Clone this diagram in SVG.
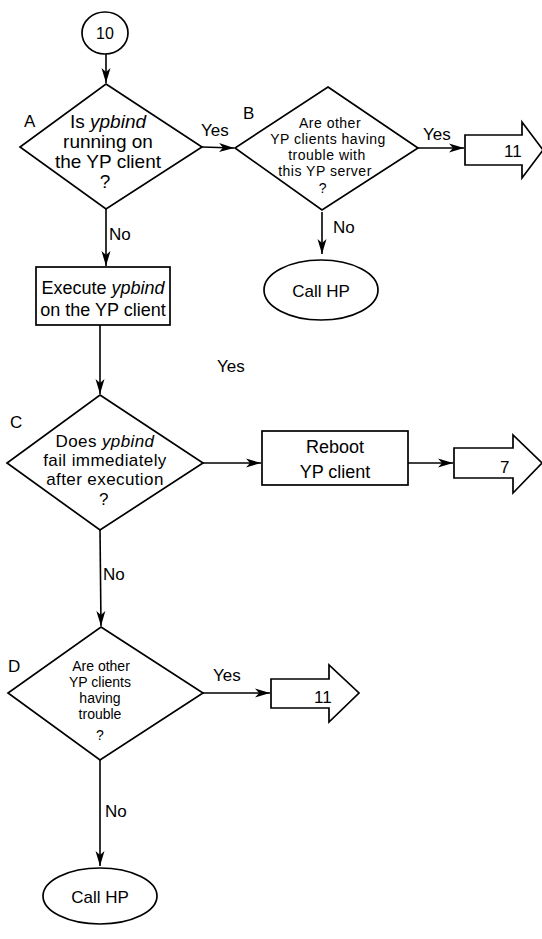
<svg xmlns="http://www.w3.org/2000/svg" width="542" height="939" viewBox="0 0 542 939">
<style>
.s{fill:#fff;stroke:#000;stroke-width:1.7}
.c{fill:none;stroke:#000;stroke-width:1.6}
text{font-family:"Liberation Sans",Arial,sans-serif;fill:#000}
.t{font-size:18px;text-anchor:middle}
.a{font-size:19px;text-anchor:middle}
.q{font-size:17px;text-anchor:middle;letter-spacing:0.4px}
.m{font-size:16px;text-anchor:middle}
.d{font-size:14px;text-anchor:middle}
.sm{font-size:14px;text-anchor:middle;letter-spacing:0.5px}
.l{font-size:17px}
.i{font-style:italic}
</style>
<defs>
<marker id="ah" markerWidth="16" markerHeight="10" refX="15" refY="5" orient="auto" markerUnits="userSpaceOnUse">
<path d="M0,0.5 L15,5 L0,9.5 L4,5 z" fill="#000"/>
</marker>
</defs>
<rect width="542" height="939" fill="#fff"/>
<g id="connectors">
<line class="c" x1="106" y1="54" x2="106" y2="83" marker-end="url(#ah)"/>
<line class="c" x1="202" y1="147" x2="234" y2="148" marker-end="url(#ah)"/>
<line class="c" x1="418" y1="148" x2="464" y2="148" marker-end="url(#ah)"/>
<line class="c" x1="322" y1="212" x2="322" y2="254" marker-end="url(#ah)"/>
<line class="c" x1="106" y1="209" x2="106" y2="266" marker-end="url(#ah)"/>
<line class="c" x1="100" y1="325" x2="100" y2="394" marker-end="url(#ah)"/>
<line class="c" x1="203" y1="463" x2="261" y2="463" marker-end="url(#ah)"/>
<line class="c" x1="408" y1="463" x2="453" y2="463" marker-end="url(#ah)"/>
<line class="c" x1="100" y1="530" x2="101" y2="626" marker-end="url(#ah)"/>
<line class="c" x1="203" y1="693" x2="270" y2="693" marker-end="url(#ah)"/>
<line class="c" x1="100" y1="760" x2="100" y2="866" marker-end="url(#ah)"/>
<text class="l" x="201" y="136">Yes</text>
<text class="l" x="423" y="140">Yes</text>
<text class="l" x="333" y="233">No</text>
<text class="l" x="109" y="240">No</text>
<text class="l" x="217" y="372">Yes</text>
<text class="l" x="103" y="580">No</text>
<text class="l" x="213" y="681">Yes</text>
<text class="l" x="105" y="817">No</text>
</g>
<g id="n10">
<ellipse class="s" cx="105" cy="33" rx="23" ry="21"/>
<text class="m" x="105" y="39">10</text>
</g>
<g id="nA">
<polygon class="s" points="106,84 202,147 106,209 20,147"/>
<text class="l" x="24" y="127">A</text>
<text class="a" x="108" y="128">Is <tspan class="i">ypbind</tspan></text>
<text class="a" x="108" y="148">running on</text>
<text class="a" x="108" y="168">the YP client</text>
<text class="a" x="105" y="188">?</text>
</g>
<g id="nB">
<polygon class="s" points="328,87 418,148 322,210 235,148"/>
<text class="l" x="243" y="119">B</text>
<text class="sm" x="330" y="128">Are other</text>
<text class="sm" x="328" y="144">YP clients having</text>
<text class="sm" x="327" y="160">trouble with</text>
<text class="sm" x="325" y="176">this YP server</text>
<text class="sm" x="323" y="193">?</text>
</g>
<g id="n11a">
<polygon class="s" points="465,135 522,135 522,122 543,150 522,178 522,165 465,165"/>
<text class="l" x="504" y="157">11</text>
</g>
<g id="nCallHP1">
<ellipse class="s" cx="321" cy="290" rx="57" ry="30"/>
<text class="l" x="321" y="297" text-anchor="middle">Call HP</text>
</g>
<g id="nExec">
<rect class="s" x="36" y="267" width="134" height="58"/>
<text class="t" x="103" y="294">Execute <tspan class="i">ypbind</tspan></text>
<text class="t" x="103" y="316">on the YP client</text>
</g>
<g id="nC">
<polygon class="s" points="100,395 203,463 100,530 7,463"/>
<text class="l" x="10" y="428">C</text>
<text class="q" x="105" y="447">Does <tspan class="i">ypbind</tspan></text>
<text class="q" x="105" y="466">fail immediately</text>
<text class="q" x="105" y="485">after execution</text>
<text class="q" x="104" y="505">?</text>
</g>
<g id="nReboot">
<rect class="s" x="262" y="431" width="146" height="54"/>
<text class="t" x="335" y="453">Reboot</text>
<text class="t" x="335" y="478">YP client</text>
</g>
<g id="n7">
<polygon class="s" points="454,448 513,448 513,435 542,463 513,493 513,478 454,478"/>
<text class="l" x="500" y="473">7</text>
</g>
<g id="nD">
<polygon class="s" points="101,627 203,693 100,760 8,693"/>
<text class="l" x="8" y="672">D</text>
<text class="d" x="101" y="671">Are other</text>
<text class="d" x="100" y="687">YP clients</text>
<text class="d" x="100" y="703">having</text>
<text class="d" x="100" y="719">trouble</text>
<text class="d" x="100" y="740">?</text>
</g>
<g id="n11b">
<polygon class="s" points="271,679 329,679 329,665 359,693 329,722 329,708 271,708"/>
<text class="l" x="314" y="703">11</text>
</g>
<g id="nCallHP2">
<ellipse class="s" cx="100" cy="896" rx="57" ry="28"/>
<text class="l" x="100" y="903" text-anchor="middle">Call HP</text>
</g>
</svg>
